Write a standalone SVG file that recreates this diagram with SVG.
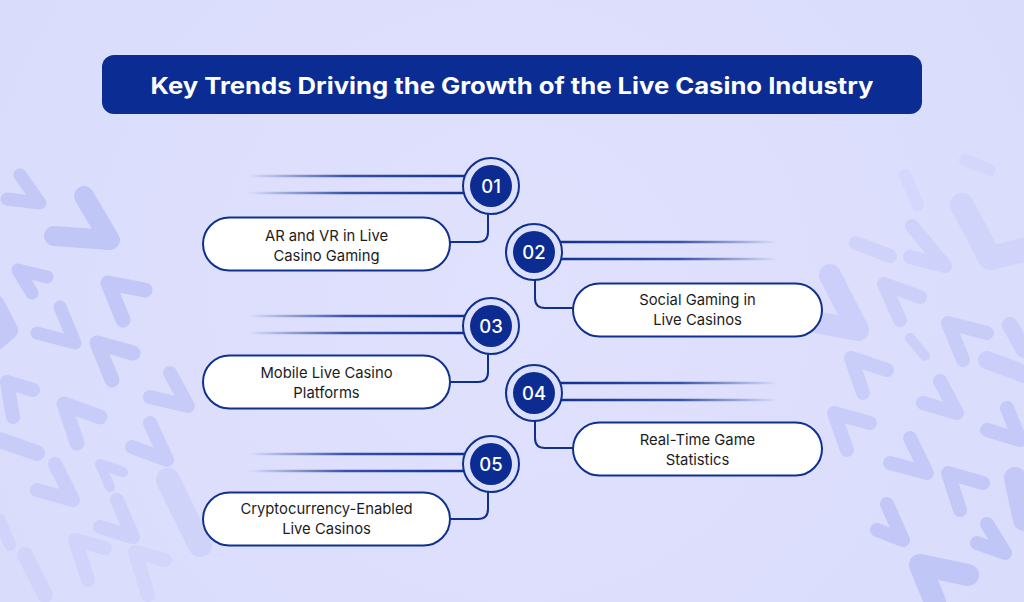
<svg xmlns="http://www.w3.org/2000/svg" width="1024" height="602" viewBox="0 0 1024 602">
<defs>
<linearGradient id="fadeL" gradientUnits="userSpaceOnUse" x1="248" y1="0" x2="466" y2="0">
<stop offset="0" stop-color="#10308f" stop-opacity="0"/>
<stop offset="0.45" stop-color="#10308f" stop-opacity="0.8"/>
<stop offset="1" stop-color="#10308f" stop-opacity="1"/>
</linearGradient>
<linearGradient id="fadeR" gradientUnits="userSpaceOnUse" x1="559" y1="0" x2="778" y2="0">
<stop offset="0" stop-color="#10308f" stop-opacity="1"/>
<stop offset="0.55" stop-color="#10308f" stop-opacity="0.8"/>
<stop offset="1" stop-color="#10308f" stop-opacity="0"/>
</linearGradient>
<radialGradient id="bgfade" cx="512" cy="300" r="600" gradientUnits="userSpaceOnUse">
<stop offset="0" stop-color="#dfe1fd"/>
<stop offset="1" stop-color="#dadcfc"/>
</radialGradient>
</defs>
<style>
.chev{fill:none;stroke:#bfc4f6;stroke-linecap:round;stroke-linejoin:round}
.ring{fill:#dde0fc;stroke:#10308f;stroke-width:2}
.dot{fill:#0c2c91}
.num{font-family:Inter,"Noto Sans",sans-serif;font-size:18.5px;font-weight:500;fill:#ffffff;text-anchor:middle}
.pill{fill:#ffffff;stroke:#10308f;stroke-width:2}
.lbl{font-family:Inter,"Noto Sans",sans-serif;font-size:14.8px;fill:#1c1c1c;text-anchor:middle}
.conn{fill:none;stroke:#10308f;stroke-width:2}
.lnL{stroke:url(#fadeL);stroke-width:2.5;fill:none}
.lnR{stroke:url(#fadeR);stroke-width:2.5;fill:none}
</style>
<rect x="0" y="0" width="1024" height="602" fill="url(#bgfade)"/>

<g id="background-left">
<path class="chev" stroke-width="13" opacity="0.85" d="M20,175 L40,203 L7,199"/>
<path class="chev" stroke-width="20" opacity="0.95" d="M84,196 L110,240 L54,236"/>
<path class="chev" stroke-width="13" opacity="0.9" d="M47,277 L18,270 L32,293"/>
<path class="chev" stroke-width="15" opacity="0.9" d="M145,290 L108,283 L123,320"/>
<path class="chev" stroke-width="20" opacity="0.85" d="M-5,305 L8,330 L-10,345"/>
<path class="chev" stroke-width="13" opacity="0.85" d="M60,307 L75,343 L37,333"/>
<path class="chev" stroke-width="15" opacity="0.85" d="M133,353 L97,343 L112,380"/>
<path class="chev" stroke-width="14" opacity="0.75" d="M33,390 L7,382 L13,417"/>
<path class="chev" stroke-width="14" opacity="0.75" d="M170,373 L188,406 L150,397"/>
<path class="chev" stroke-width="15" opacity="0.7" d="M100,417 L64,404 L77,443"/>
<path class="chev" stroke-width="14" opacity="0.7" d="M150,423 L167,460 L132,447"/>
<path class="chev" stroke-width="16" opacity="0.65" d="M0,440 L37,453"/>
<path class="chev" stroke-width="14" opacity="0.6" d="M55,464 L73,500 L37,490"/>
<path class="chev" stroke-width="10" opacity="0.6" d="M123,472 L100,464 L110,487"/>
<path class="chev" stroke-width="14" opacity="0.5" d="M117,500 L133,537 L100,527"/>
<path class="chev" stroke-width="24" opacity="0.4" d="M168,480 L190,525 L200,545"/>
<path class="chev" stroke-width="16" opacity="0.35" d="M25,555 L45,595"/>
<path class="chev" stroke-width="14" opacity="0.35" d="M105,548 L75,540 L88,580"/>
<path class="chev" stroke-width="14" opacity="0.3" d="M165,560 L135,552 L148,595"/>
<path class="chev" stroke-width="12" opacity="0.35" d="M0,520 L10,545"/>
</g>

<g id="background-right">
<path class="chev" stroke-width="12" opacity="0.25" d="M905,175 L918,205"/>
<path class="chev" stroke-width="12" opacity="0.25" d="M965,160 L990,170"/>
<path class="chev" stroke-width="24" opacity="0.35" d="M962,205 L990,258 L1024,250"/>
<path class="chev" stroke-width="14" opacity="0.4" d="M856,243 L890,256"/>
<path class="chev" stroke-width="14" opacity="0.45" d="M912,226 L945,266 L910,257"/>
<path class="chev" stroke-width="22" opacity="0.6" d="M830,275 L858,330 L815,322"/>
<path class="chev" stroke-width="14" opacity="0.55" d="M920,297 L884,284 L900,320"/>
<path class="chev" stroke-width="10" opacity="0.55" d="M910,338 L925,356"/>
<path class="chev" stroke-width="14" opacity="0.65" d="M987,333 L948,323 L963,360"/>
<path class="chev" stroke-width="18" opacity="0.6" d="M987,360 L1024,374"/>
<path class="chev" stroke-width="16" opacity="0.6" d="M1010,325 L1024,350"/>
<path class="chev" stroke-width="14" opacity="0.65" d="M887,370 L851,358 L863,393"/>
<path class="chev" stroke-width="14" opacity="0.7" d="M940,381 L957,413 L923,403"/>
<path class="chev" stroke-width="14" opacity="0.7" d="M870,423 L834,413 L847,450"/>
<path class="chev" stroke-width="14" opacity="0.8" d="M1007,408 L1020,440 L987,430"/>
<path class="chev" stroke-width="14" opacity="0.8" d="M910,438 L927,473 L890,463"/>
<path class="chev" stroke-width="14" opacity="0.85" d="M983,483 L948,473 L960,510"/>
<path class="chev" stroke-width="22" opacity="0.85" d="M1015,478 L1024,520"/>
<path class="chev" stroke-width="14" opacity="0.9" d="M887,504 L903,540 L877,530"/>
<path class="chev" stroke-width="14" opacity="0.95" d="M987,524 L1005,553 L977,543"/>
<path class="chev" stroke-width="22" opacity="0.95" d="M968,575 L920,565 L935,602"/>
</g>

<g id="title">
<rect x="102" y="55" width="820" height="59" rx="12" fill="#0b2c93"/>
<text x="512" y="94" font-family="Inter,'Noto Sans',sans-serif" font-size="23" font-weight="700" fill="#ffffff" text-anchor="middle" textLength="723" lengthAdjust="spacingAndGlyphs">Key Trends Driving the Growth of the Live Casino Industry</text>
</g>

<g id="connectors">
<path class="lnL" d="M248,176 H465"/>
<path class="lnL" d="M248,193 H464"/>
<path class="conn" d="M488,213.8 V232 Q488,242 478,242 H450"/>
<path class="lnR" d="M560,242 H778"/>
<path class="lnR" d="M561,259 H778"/>
<path class="conn" d="M535,280 V298 Q535,308 545,308 H573"/>
<path class="lnL" d="M248,316 H465"/>
<path class="lnL" d="M248,333 H464"/>
<path class="conn" d="M488,353.8 V372 Q488,382 478,382 H450"/>
<path class="lnR" d="M560,383 H778"/>
<path class="lnR" d="M561,400 H778"/>
<path class="conn" d="M535,421 V438 Q535,448 545,448 H573"/>
<path class="lnL" d="M248,454 H465"/>
<path class="lnL" d="M248,471 H464"/>
<path class="conn" d="M488,491.8 V509 Q488,519 478,519 H450"/>
</g>

<g id="node-01">
<circle class="ring" cx="491" cy="186" r="28"/>
<circle class="dot" cx="491" cy="186" r="21"/>
<text class="num" x="491" y="193">01</text>
<rect class="pill" x="203" y="217.5" width="247" height="53" rx="26.5"/>
<text class="lbl" x="326.5" y="241">AR and VR in Live</text>
<text class="lbl" x="326.5" y="261">Casino Gaming</text>
</g>

<g id="node-02">
<circle class="ring" cx="534" cy="252" r="28"/>
<circle class="dot" cx="534" cy="252" r="21"/>
<text class="num" x="534" y="259">02</text>
<rect class="pill" x="573" y="283.5" width="249" height="53" rx="26.5"/>
<text class="lbl" x="697.5" y="305">Social Gaming in</text>
<text class="lbl" x="697.5" y="325">Live Casinos</text>
</g>

<g id="node-03">
<circle class="ring" cx="491" cy="326" r="28"/>
<circle class="dot" cx="491" cy="326" r="21"/>
<text class="num" x="491" y="333">03</text>
<rect class="pill" x="203" y="355.5" width="247" height="53" rx="26.5"/>
<text class="lbl" x="326.5" y="377.5">Mobile Live Casino</text>
<text class="lbl" x="326.5" y="397.5">Platforms</text>
</g>

<g id="node-04">
<circle class="ring" cx="534" cy="393" r="28"/>
<circle class="dot" cx="534" cy="393" r="21"/>
<text class="num" x="534" y="400">04</text>
<rect class="pill" x="573" y="422.5" width="249" height="53" rx="26.5"/>
<text class="lbl" x="697.5" y="445">Real-Time Game</text>
<text class="lbl" x="697.5" y="465">Statistics</text>
</g>

<g id="node-05">
<circle class="ring" cx="491" cy="464" r="28"/>
<circle class="dot" cx="491" cy="464" r="21"/>
<text class="num" x="491" y="471">05</text>
<rect class="pill" x="203" y="492.5" width="247" height="53" rx="26.5"/>
<text class="lbl" x="326.5" y="513.5">Cryptocurrency-Enabled</text>
<text class="lbl" x="326.5" y="533.5">Live Casinos</text>
</g>
</svg>
